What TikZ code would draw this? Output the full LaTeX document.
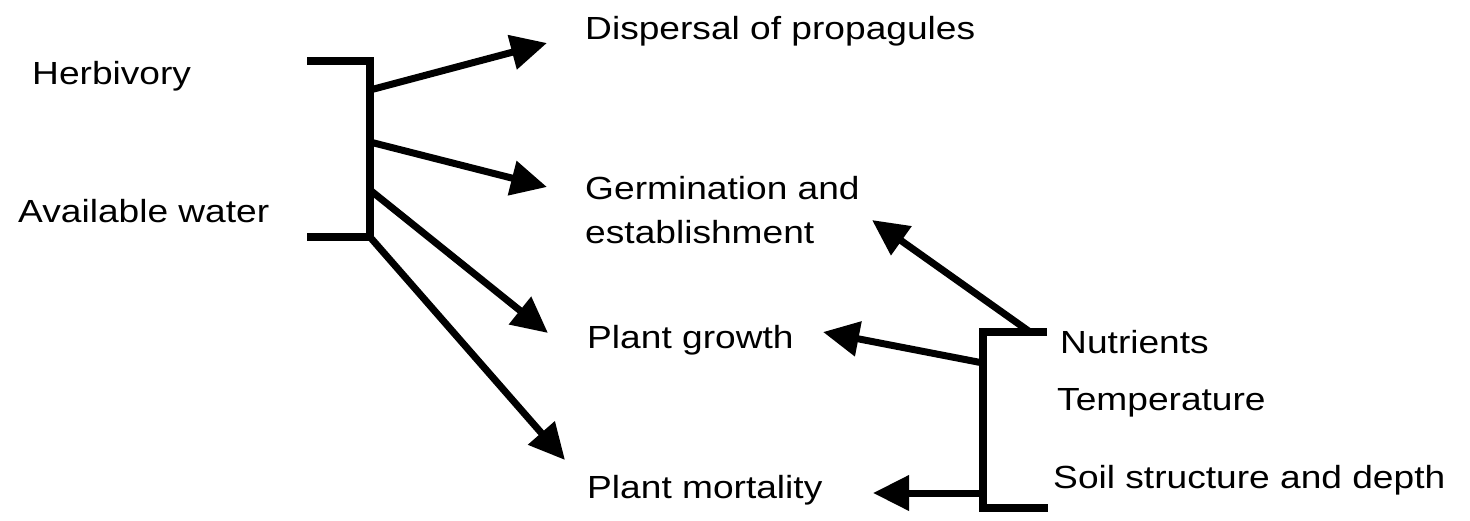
\documentclass[tikz,border=0pt]{standalone}
\usepackage{fontspec}
\setmainfont{Liberation Sans}
\usetikzlibrary{arrows.meta}
\begin{document}
\begin{tikzpicture}[x=1pt,y=-1pt,
  lbl/.style={anchor=base west, inner sep=0pt, xscale=1.16, font=\fontsize{32}{38}\selectfont},
  bar/.style={line width=7.5pt, line join=miter},
  arr/.style={line width=7pt, -{Triangle[length=36pt,width=34pt]}}]
\useasboundingbox (0,0) rectangle (1470,520);
% labels
\node[lbl] (herb) at (32,84) {Herbivory};
\node[lbl] (water) at (18,222) {Available water};
\node[lbl] (disp) at (585,39) {Dispersal of propagules};
\node[lbl] (germ) at (585,199) {Germination and};
\node[lbl] (estab) at (585,243) {establishment};
\node[lbl] (growth) at (587,348) {Plant growth};
\node[lbl] (mort) at (587,498) {Plant mortality};
\node[lbl] (nutr) at (1060,353) {Nutrients};
\node[lbl] (temp) at (1057,410) {Temperature};
\node[lbl] (soil) at (1053,488) {Soil structure and depth};
% left bracket
\coordinate (lt) at (307,61);
\coordinate (ltc) at (370,61);
\coordinate (lbc) at (370,237);
\coordinate (lb) at (307,237);
\draw[bar] (lt) -- (ltc) -- (lbc) -- (lb);
\coordinate (l1) at (370,90);
\coordinate (l2) at (370,142);
\coordinate (l3) at (370,190);
\coordinate (t1) at (547,43);
\coordinate (t2) at (547,187);
\coordinate (t3) at (548,333);
\coordinate (t4) at (565,460);
\draw[arr] (l1) -- (t1);
\draw[arr] (l2) -- (t2);
\draw[arr] (l3) -- (t3);
\draw[arr] (lbc) -- (t4);
% right bracket
\coordinate (rt) at (1047,332);
\coordinate (rtc) at (983,332);
\coordinate (rbc) at (983,508);
\coordinate (rb) at (1048,508);
\draw[bar] (rt) -- (rtc) -- (rbc) -- (rb);
\coordinate (r1) at (1030,332);
\coordinate (r2) at (983,363);
\coordinate (r3) at (983,493);
\coordinate (u1) at (872,220);
\coordinate (u2) at (823,332);
\coordinate (u3) at (873,493);
\draw[arr] (r1) -- (u1);
\draw[arr] (r2) -- (u2);
\draw[arr] (r3) -- (u3);
\end{tikzpicture}
\end{document}
